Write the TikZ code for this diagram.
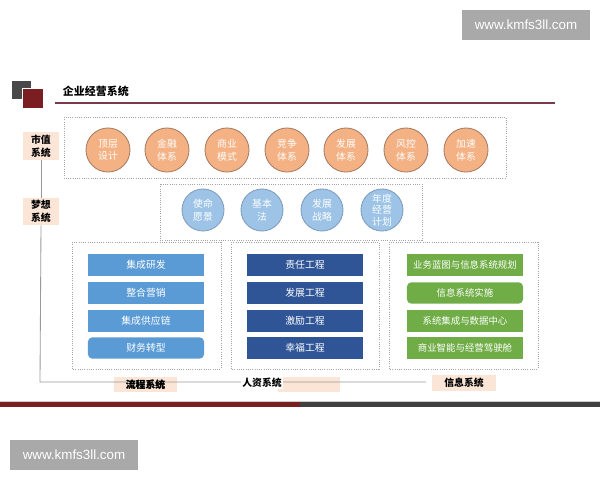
\documentclass[tikz,border=0pt]{standalone}
\usepackage{fontspec}
\setmainfont{Noto Sans CJK SC}
\newfontfamily\wmfont{Liberation Sans}
\usetikzlibrary{positioning}

\definecolor{orgfill}{HTML}{F4B183}
\definecolor{orgline}{HTML}{A57D64}
\definecolor{bluefill}{HTML}{9DC3E6}
\definecolor{blueline}{HTML}{7F9DBD}
\definecolor{midblue}{HTML}{5B9BD5}
\definecolor{darkblue}{HTML}{2F5597}
\definecolor{leafgreen}{HTML}{70AD47}
\definecolor{tagpink}{HTML}{FBE5D6}
\definecolor{wine}{HTML}{7B1E22}
\definecolor{slate}{HTML}{404040}
\definecolor{rulered}{HTML}{7B3A4A}
\definecolor{wmgray}{HTML}{A9A9A9}

\tikzset{
  circ/.style={circle, minimum size=1.1cm, inner sep=0pt, align=center, text=white,
    font=\fontsize{7}{9}\selectfont, line width=0.6pt},
  orgcirc/.style={circ, fill=orgfill, draw=orgline},
  bluecirc/.style={circ, fill=bluefill, draw=blueline, minimum size=1.05cm},
  bar/.style={minimum width=2.9cm, minimum height=0.53cm, inner sep=0pt, text=white,
    font=\fontsize{7}{8.5}\selectfont},
  greenbar/.style={bar, fill=leafgreen, font=\fontsize{6.7}{8}\selectfont},
  tag/.style={fill=tagpink, inner sep=0pt, align=center, font=\bfseries\fontsize{7}{9}\selectfont},
  frame/.style={draw=gray!70, densely dotted, line width=0.6pt},
  wmark/.style={fill=wmgray, text=white, minimum width=3.2cm, minimum height=0.75cm,
    inner sep=0pt, font=\wmfont\fontsize{9.5}{11}\selectfont}
}

\begin{document}
\begin{tikzpicture}[x=0.025cm, y=-0.025cm]
        \useasboundingbox[fill=white] (0,0) rectangle (600,480);

        % Watermarks
        \node[wmark] (wmtop) at (526,25) {www.kmfs3ll.com};
        \node[wmark] (wmbot) at (74,455) {www.kmfs3ll.com};

        % Title with squares and rule
        \fill[slate!95] (12,81) rectangle (31,99);
        \filldraw[fill=wine, draw=white, line width=0.5pt] (22,88) rectangle (43,108);
        \node[anchor=west, font=\bfseries\fontsize{7.8}{9.5}\selectfont] (title) at (58,91) {企业经营系统};
        \draw[rulered, line width=1pt] (55,103) -- (555,103);

        % Market value row
        \draw[frame] (64,117) rectangle (506,178);
        \foreach \x/\t [count=\i] in {108/顶层\\设计, 167/金融\\体系, 227/商业\\模式, 287/竞争\\体系,
            346/发展\\体系, 406/风控\\体系, 466/加速\\体系}
            \node[orgcirc] (oc\i) at (\x,150) {\t};

        % Dream row
        \draw[frame] (160,184) rectangle (422,240);
        \foreach \x/\t [count=\i] in {203/使命\\愿景, 262/基本\\法, 322/发展\\战略}
            \node[bluecirc] (bc\i) at (\x,210) {\t};
        \node[bluecirc, font=\fontsize{7}{8.3}\selectfont] (bc4) at (382,210) {年度\\经营\\计划};

        % Three lower frames
        \draw[frame] (72,242) rectangle (221,369);
        \draw[frame] (231,242) rectangle (379,369);
        \draw[frame] (389,242) rectangle (538,369);

        % Process bars
        \foreach \y/\t [count=\i] in {265/集成研发, 293/整合营销, 321/集成供应链}
            \node[bar, fill=midblue] (pb\i) at (146,\y) {\t};
        \node[bar, fill=midblue, rounded corners=3pt] (pb4) at (146,348) {财务转型};

        % HR bars
        \foreach \y/\t [count=\i] in {265/责任工程, 293/发展工程, 321/激励工程, 348/幸福工程}
            \node[bar, fill=darkblue] (hb\i) at (305,\y) {\t};

        % Information bars
        \node[greenbar] (gb1) at (465,265) {业务蓝图与信息系统规划};
        \node[greenbar, rounded corners=3pt] (gb2) at (465,293) {信息系统实施};
        \node[greenbar] (gb3) at (465,321) {系统集成与数据中心};
        \node[greenbar] (gb4) at (465,348) {商业智能与经营驾驶舱};

        % Side and bottom tags
        \node[tag, minimum width=0.9cm, minimum height=0.68cm] (mv) at (41,146) {市值\\系统};
        \node[tag, minimum width=0.9cm, minimum height=0.68cm] (mx) at (41,211.5) {梦想\\系统};
        \node[tag, minimum width=1.58cm, minimum height=0.38cm] (lc) at (145.5,384.5) {流程系统};
        \fill[tagpink] (278,377) rectangle (340,392);
        \node[tag, minimum width=1.6cm, minimum height=0.4cm] (xx) at (464,383) {信息系统};

        % Connector line
        \coordinate (corner) at (40,382);
        \draw[gray!80, line width=0.6pt] (mv.south) -- (mx.north);
        \draw[gray!80, line width=0.6pt] (mx.south) -- (corner) -- ([xshift=-4pt]xx.west |- corner);
        \node[font=\bfseries\fontsize{7}{9}\selectfont, fill=white, inner sep=1pt] (rz) at (262,383) {人资系统};
        \node[font=\bfseries\fontsize{7}{9}\selectfont, inner sep=0pt] at (lc) {流程系统};

        % Bottom bar
        \fill[wine] (0,402) rectangle (300,407);
        \fill[slate] (300,402) rectangle (600,407);
        \draw[gray!40, line width=0.4pt] (0,401.5) -- (600,401.5);

    \end{tikzpicture}
\end{document}
